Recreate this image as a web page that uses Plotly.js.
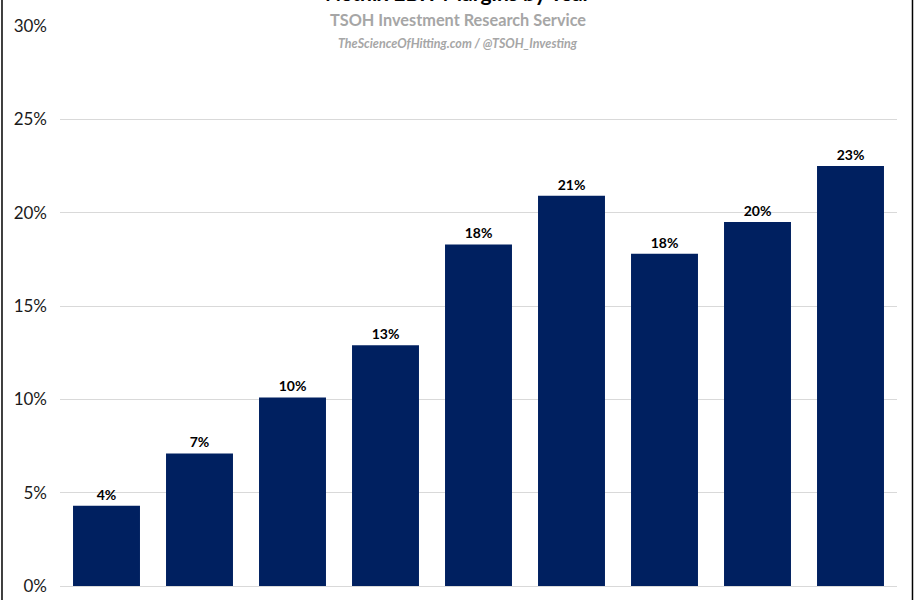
<!DOCTYPE html>
<html>
<head>
<meta charset="utf-8">
<script src="https://cdn.plot.ly/plotly-3.0.1.min.js"></script>
<style>html,body{margin:0;padding:0;background:#fff;}#chart{width:915px;height:600px;}</style>
</head>
<body>
<div id="chart"></div>
<script>
const years = ['2016', '2017', '2018', '2019', '2020', '2021', '2022', '2023', '2024'];
const ebitMargins = [4.3, 7.1, 10.1, 12.9, 18.3, 20.9, 17.8, 19.5, 22.5];
const barLabels = ['4%', '7%', '10%', '13%', '18%', '21%', '18%', '20%', '23%'];
const yTickVals = [0, 5, 10, 15, 20, 25, 30];
const yTickText = ['0%', '5%', '10%', '15%', '20%', '25%', '30%'];

const trace = {
  type: 'bar',
  x: years,
  y: ebitMargins,
  text: barLabels,
  textposition: 'outside',
  cliponaxis: false,
  textfont: {family: 'Lato, sans-serif', size: 14, color: '#000'},
  texttemplate: '<b>%{text}</b>',
  marker: {color: '#002060'},
  hoverinfo: 'x+y'
};

const layout = {
  width: 915, height: 600,
  margin: {l: 60, r: 18, t: 26, b: 14},
  paper_bgcolor: '#fff', plot_bgcolor: '#fff',
  bargap: 0.28,
  showlegend: false,
  font: {family: 'Lato, sans-serif'},
  xaxis: {
    type: 'category', showticklabels: false, showgrid: false,
    showline: false, zeroline: false, ticks: ''
  },
  yaxis: {
    range: [0, 30], tickvals: yTickVals, ticktext: yTickText,
    showgrid: true, gridcolor: '#d9d9d9', gridwidth: 1,
    zeroline: true, zerolinecolor: '#d9d9d9', zerolinewidth: 1,
    showline: false, ticks: '', ticklabelstandoff: 12,
    tickfont: {family: 'Lato, sans-serif', size: 17, color: '#1a1a1a'}
  },
  annotations: [
    {text: '<b>Netflix EBIT Margins by Year</b>', xref: 'paper', yref: 'paper', x: 0.476, y: 1.034,
     xanchor: 'center', yanchor: 'bottom', showarrow: false,
     font: {family: 'Lato, sans-serif', size: 21, color: '#000'}},
    {text: '<b>TSOH Investment Research Service</b>', xref: 'paper', yref: 'paper', x: 0.476, y: 1.0125,
     xanchor: 'center', yanchor: 'middle', showarrow: false, bgcolor: '#fff',
     borderpad: 2,
     font: {family: 'Lato, sans-serif', size: 16.3, color: '#a6a6a6'}},
    {text: '<b><i>TheScienceOfHitting.com / @TSOH_Investing</i></b>', xref: 'paper', yref: 'paper', x: 0.476, y: 0.9696,
     xanchor: 'center', yanchor: 'middle', showarrow: false,
     font: {family: 'Lato, sans-serif', size: 12.5, color: '#a6a6a6'}}
  ],
  shapes: [
    {type: 'line', xref: 'paper', yref: 'paper', x0: -0.0693, x1: -0.0693, y0: -0.1, y1: 1.2,
     line: {color: '#000', width: 1.5}},
    {type: 'line', xref: 'paper', yref: 'paper', x0: 1.0185, x1: 1.0185, y0: -0.1, y1: 1.2,
     line: {color: '#000', width: 1.5}}
  ]
};

Plotly.newPlot('chart', [trace], layout, {displayModeBar: false, staticPlot: true});
</script>
</body>
</html>
